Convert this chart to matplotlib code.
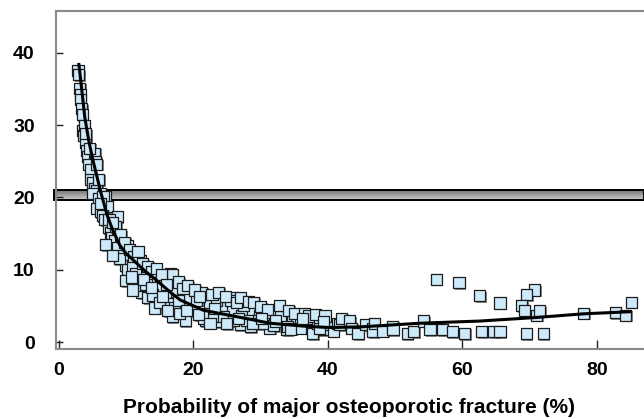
import numpy as np
import matplotlib
matplotlib.use("Agg")
import matplotlib.pyplot as plt
import matplotlib.patheffects as pe
from matplotlib.patches import Rectangle

plt.rcParams['font.family'] = ['Liberation Sans', 'DejaVu Sans']

# scatter points (probability %, y value)
pts_x = [2.9, 3.0, 3.1, 3.2, 3.2, 3.4, 3.5, 3.6, 3.7, 4.0, 4.2, 4.3, 5.4, 5.5, 4.5, 4.7,
         4.8, 5.0, 5.7, 5.3, 5.7, 6.2, 6.9, 5.1, 5.9, 6.6, 5.7, 6.2, 7.2, 6.5, 8.7, 6.9,
         7.4, 7.7, 7.9, 8.8, 8.3, 8.7, 10.2, 10.9, 9.5, 12.1, 9.9, 10.3, 11.0, 11.6, 12.9,
         13.6, 16.6, 15.1, 12.4, 13.3, 14.3, 16.6, 16.9, 15.8, 14.6, 16.9, 16.9, 17.3, 18.8,
         18.8, 19.5, 21.3, 21.8, 22.5, 24.0, 24.3, 25.8, 25.9, 27.0, 27.2, 28.5, 28.9, 29.9,
         31.4, 31.7, 32.5, 33.7, 34.7, 35.4, 36.9, 37.8, 39.3, 19.5, 21.5, 23.5, 25.5, 29.5,
         31.7, 33.9, 35.9, 37.8,
         9.0, 11.5, 12.0, 13.0, 14.0, 15.0, 17.5, 18.0, 20.0, 20.5, 22.0, 23.0, 24.5, 26.0,
         27.5, 28.0, 30.5, 32.0, 33.0, 34.0, 36.0, 38.5, 40.0, 7.0, 8.0, 10.0, 11.0,
         8.5, 9.2, 9.8, 10.5, 11.2, 11.8, 12.5, 13.2, 13.8, 14.5, 15.3, 16.0, 17.8, 18.5,
         19.2, 20.2, 21.0, 22.8, 23.8, 24.8, 26.5, 27.0, 28.2, 29.0, 30.0, 31.0, 32.8, 34.2,
         35.0, 36.5, 37.2, 38.2, 39.6, 10.8, 12.6, 13.8, 15.5, 16.2, 17.8, 19.0, 20.8, 22.5,
         23.2, 25.0, 26.8, 28.8, 30.2, 32.2, 34.5, 36.2, 38.8, 6.0, 4.6, 3.8, 4.0, 6.3, 7.5,
         8.0,
         39.4, 40.8, 41.4, 41.8, 42.1, 43.3, 43.5, 44.5, 45.6, 46.6, 46.7, 46.9, 48.2, 49.6,
         49.7, 51.8, 52.8, 54.2, 55.2, 57.0, 58.5, 60.3, 56.1, 59.5,
         62.6, 65.6, 70.7, 69.6, 68.8, 69.2, 71.0, 71.5, 78.0, 82.7, 84.3, 85.1, 62.9, 64.7,
         65.6, 69.5, 72.0]
pts_y = [37.6, 37.0, 35.1, 34.2, 33.6, 32.3, 31.5, 29.2, 28.6, 27.6, 26.5, 25.6, 26.1, 25.0,
         24.5, 23.8, 22.5, 22.0, 24.6, 21.2, 21.0, 20.6, 20.1, 20.6, 19.9, 20.1, 18.5, 18.0,
         18.7, 17.5, 17.3, 16.9, 15.8, 15.1, 14.5, 14.5, 14.0, 13.0, 13.4, 12.3, 12.0, 11.3,
         10.6, 10.0, 10.5, 8.6, 10.0, 9.0, 9.5, 8.6, 6.8, 6.1, 4.7, 5.8, 3.5, 7.2, 7.6, 9.3,
         6.8, 4.8, 3.0, 5.5, 6.9, 6.9, 3.0, 5.1, 2.8, 4.7, 6.1, 4.4, 2.4, 3.7, 2.1, 4.4, 3.7,
         1.9, 3.5, 4.1, 2.8, 3.3, 2.6, 2.8, 1.7, 1.7, 6.2, 3.3, 5.8, 5.8, 3.0, 3.7, 1.7, 2.8,
         1.2,
         11.5, 9.5, 7.8, 8.0, 6.5, 5.5, 7.0, 4.0, 4.5, 5.8, 4.0, 3.5, 3.5, 3.0, 5.0, 3.0, 2.5,
         2.3, 3.5, 2.2, 1.9, 2.6, 2.4, 13.5, 12.0, 8.5, 7.2,
         16.0, 14.8, 13.8, 12.8, 11.8, 12.5, 10.8, 10.5, 9.8, 10.2, 9.3, 8.0, 8.3, 7.4,
         7.8, 7.2, 6.3, 6.6, 6.9, 6.3, 5.5, 6.2, 5.6, 5.5, 4.9, 4.5, 5.0, 4.4,
         3.9, 4.0, 3.6, 3.8, 3.6, 9.0, 8.7, 7.5, 6.3, 4.3, 5.8, 4.3, 3.8, 2.6,
         4.6, 2.5, 3.3, 2.5, 3.2, 2.9, 1.8, 3.2, 1.9, 22.5, 26.8, 30.0, 28.8, 19.2, 17.0,
         16.5,
         2.8, 1.5, 2.6, 2.4, 3.3, 2.9, 1.9, 1.2, 2.4, 1.9, 1.4, 2.6, 1.5, 2.2, 1.7, 1.2, 1.4,
         2.9, 1.7, 1.7, 1.4, 1.2, 8.7, 8.2,
         6.4, 5.4, 7.2, 6.6, 5.0, 4.3, 3.7, 4.3, 4.0, 4.1, 3.7, 5.5, 1.4, 1.4, 1.4, 1.2, 1.2]

# fitted curve
fit_x = [3.0, 3.5, 3.9, 4.5, 5.1, 6.2, 7.2, 8.0, 9.1, 10.0, 11.6, 13.0, 14.1, 16.6, 18.1,
         21.5, 26.5, 31.4, 36.4, 40.3, 45.0, 53.7, 62.6, 71.1, 78.0, 85.2]
fit_y = [38.6, 34.5, 31.1, 27.8, 25.2, 21.0, 17.6, 15.6, 13.4, 12.3, 10.9, 9.7, 8.9, 6.9,
         5.8, 4.4, 3.5, 2.6, 2.2, 2.0, 2.1, 2.6, 2.9, 3.4, 3.9, 4.2]

band_lo, band_hi = 19.6, 21.0
xticks = [0, 20, 40, 60, 80]
yticks = [0, 10, 20, 30, 40]

fig = plt.figure(figsize=(6.44, 4.19), dpi=100)
ax = fig.add_axes([0.0865, 0.167, 0.912, 0.807])
ax.set_xlim(-0.42, 86.85)
ax.set_ylim(-0.97, 45.8)

# grey band at 20 with vertical shading
grad = np.linspace(0.42, 0.8, 50).reshape(-1, 1)
ax.imshow(grad, cmap='gray', vmin=0, vmax=1, aspect='auto', origin='upper',
          extent=[-0.67, 86.85, band_lo, band_hi], zorder=1, clip_on=False)
ax.add_patch(Rectangle((-0.67, band_lo), 87.6, band_hi - band_lo, fill=False,
                       edgecolor='black', lw=1.4, zorder=1.5, clip_on=False))

sc = ax.scatter(pts_x, pts_y, s=64, marker='s', facecolor='#cde9fa',
                edgecolor='#1c1c1c', linewidths=0.9, zorder=2)
sc.set_path_effects([pe.SimplePatchShadow(offset=(1.2, -1.2), shadow_rgbFace='#555555',
                                          alpha=0.7), pe.Normal()])

ax.plot(fit_x, fit_y, color='black', lw=2.2, zorder=3, solid_capstyle='butt')

for s in ['left', 'bottom', 'top']:
    ax.spines[s].set_color('#8a8a8a')
    ax.spines[s].set_linewidth(1.5)
ax.spines['right'].set_visible(False)

ax.set_xticks(xticks)
ax.set_yticks(yticks)
ax.tick_params(axis='x', direction='in', length=6.5, width=1, color='#222222', pad=9,
               labelsize=14)
ax.tick_params(axis='y', direction='in', length=5, width=1, color='#222222', pad=15,
               labelsize=14)
for lab in ax.get_xticklabels() + ax.get_yticklabels():
    lab.set_fontweight('bold')

ax.set_xlabel('Probability of major osteoporotic fracture (%)', fontsize=15,
              fontweight='bold', labelpad=14)

fig.savefig('out.png', dpi=100)
